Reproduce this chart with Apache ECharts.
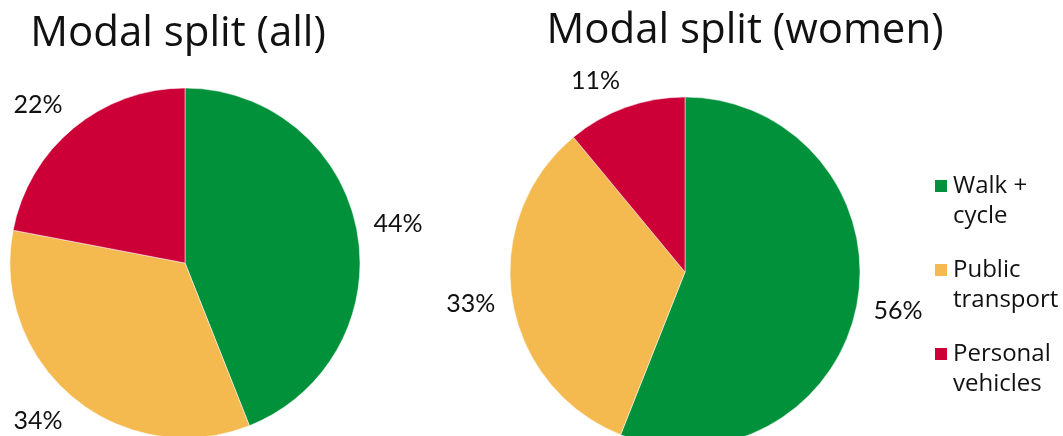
<!DOCTYPE html>
<html>
<head>
<meta charset="utf-8">
<script src="https://cdn.jsdelivr.net/npm/echarts@6/dist/echarts.min.js"></script>
<style>
  html, body { margin: 0; padding: 0; background: #ffffff; }
  #chart { width: 1063px; height: 436px; }
</style>
</head>
<body>
<div id="chart"></div>
<script>
// Travel modes and their shares (percent)
const modes = ['Walk +\ncycle', 'Public\ntransport', 'Personal\nvehicles'];
const shareAll = [44, 34, 22];
const shareWomen = [56, 33, 11];
const modeColors = ['#00913A', '#F4B94F', '#CC0036'];
const titles = ['Modal split (all)', 'Modal split (women)'];

const TITLE_FONT = '"Open Sans", "DejaVu Sans", sans-serif';
const LABEL_FONT = '"Liberation Sans Narrow", Lato, sans-serif';

const PIE_RADIUS = 175;
const pieCenters = [[185, 263], [685, 272]];
const seriesValues = [shareAll, shareWomen];
// gap between the pie rim and the nearest side of a value label
const LABEL_GAP = 17;

// Mid-angle of a slice, clockwise from 12 o'clock, in radians
function midAngle(values, idx) {
  const total = values.reduce((a, b) => a + b, 0);
  let before = 0;
  for (let i = 0; i < idx; i++) before += values[i];
  return ((before + values[idx] / 2) / total) * Math.PI * 2;
}

const clamp1 = v => Math.max(-1, Math.min(1, v));

function pieSeries(seriesIdx) {
  const values = seriesValues[seriesIdx];
  const c = pieCenters[seriesIdx];
  return {
    type: 'pie',
    radius: PIE_RADIUS,
    center: c,
    startAngle: 90,
    clockwise: true,
    silent: true,
    animation: false,
    data: modes.map((m, i) => ({ name: m, value: values[i] })),
    itemStyle: { borderColor: '#ffffff', borderWidth: 0.5 },
    label: {
      show: true,
      position: 'outside',
      formatter: '{c}%',
      color: '#111111',
      fontFamily: LABEL_FONT,
      fontSize: 25
    },
    labelLine: { show: false, length: 14, length2: 0 },
    // put each value label just outside the rim, its box pushed away from the pie
    labelLayout: function (params) {
      const a = midAngle(values, params.dataIndex);
      const dx = Math.sin(a), dy = -Math.cos(a);
      const w = params.labelRect.width, h = 20;
      const r = PIE_RADIUS + LABEL_GAP;
      return {
        x: c[0] + dx * r + clamp1(4 * dx) * w / 2,
        y: c[1] + dy * r + clamp1(1.5 * dy) * h / 2,
        align: 'center',
        verticalAlign: 'middle'
      };
    }
  };
}

const chart = echarts.init(document.getElementById('chart'));
chart.setOption({
  color: modeColors,
  animation: false,
  title: [
    {
      text: titles[0], left: 173, top: 8, textAlign: 'center',
      textStyle: { fontFamily: TITLE_FONT, fontSize: 42, fontWeight: 'normal', color: '#111111' }
    },
    {
      text: titles[1], left: 740, top: 5, textAlign: 'center',
      textStyle: { fontFamily: TITLE_FONT, fontSize: 42, fontWeight: 'normal', color: '#111111' }
    }
  ],
  legend: {
    orient: 'vertical',
    left: 933,
    top: 141,
    padding: 0,
    itemWidth: 14,
    itemHeight: 14,
    itemGap: -6,
    icon: 'rect',
    selectedMode: false,
    data: modes,
    // a leading blank line keeps the swatch level with the first text line
    formatter: name => '\n' + name,
    textStyle: {
      fontFamily: TITLE_FONT, fontSize: 24, color: '#111111',
      lineHeight: 30
    }
  },
  series: [pieSeries(0), pieSeries(1)]
});
</script>
</body>
</html>
